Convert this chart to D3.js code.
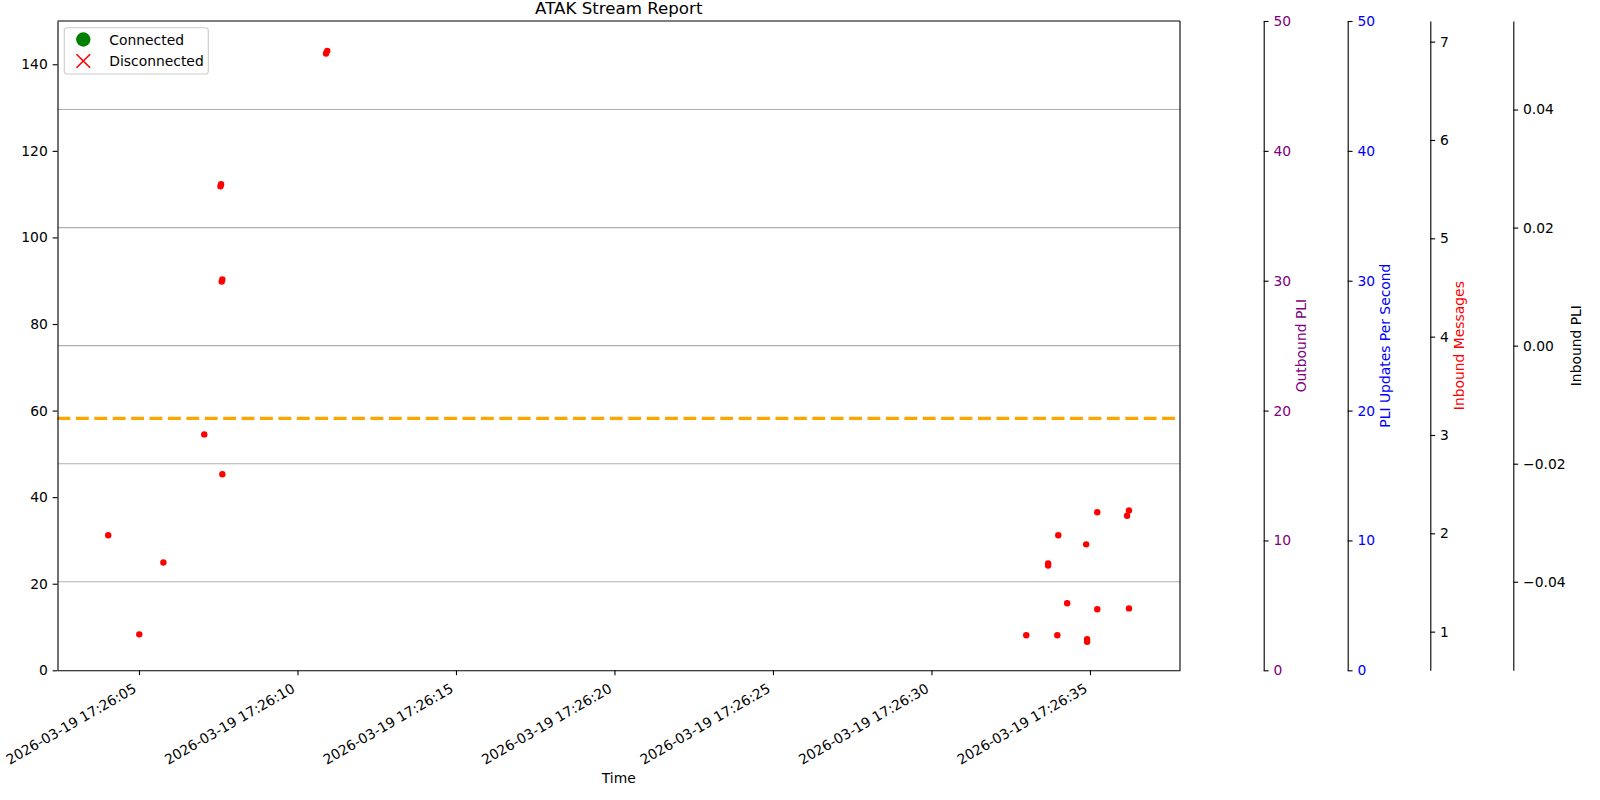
<!DOCTYPE html>
<html><head><meta charset="utf-8">
<script src="https://cdn.jsdelivr.net/npm/d3@7"></script>
<style>
body{margin:0;background:#fff}
text{font-family:"DejaVu Sans",sans-serif}
</style>
</head><body>
<svg id="c" width="1600" height="800"></svg>
<script>
// ---- data ----
const pointTimes  = [4.03, 5.01, 5.77, 7.06, 7.57, 7.59, 7.61, 7.63, 7.63, 10.90, 10.94,
                     32.99, 33.68, 33.68, 33.97, 34.00, 34.28, 34.88, 34.91, 34.91, 35.23, 35.23, 36.17, 36.23, 36.23]; // seconds after 17:26:00
const pointValues = [31.2, 8.3, 24.9, 54.5, 111.8, 112.3, 89.8, 90.3, 45.3, 142.5, 143.1,
                     8.1, 24.7, 24.2, 8.1, 31.2, 15.5, 29.1, 7.2, 6.6, 36.5, 14.1, 35.7, 36.9, 14.3];
const thresholdValue = 58.2;
const timeDomain = [2.43, 37.84];
const timeTicks = [5, 10, 15, 20, 25, 30, 35];
const leftDomain = [0, 150];
const leftTicks = [0, 20, 40, 60, 80, 100, 120, 140];
const outboundDomain = [0, 50];
const outboundTicks = [0, 10, 20, 30, 40, 50];
const pliRateDomain = [0, 50];
const pliRateTicks = [0, 10, 20, 30, 40, 50];
const inboundMsgDomain = [0.607, 7.21];
const inboundMsgTicks = [1, 2, 3, 4, 5, 6, 7];
const inboundPliDomain = [-0.055, 0.055];
const inboundPliTicks = [-0.04, -0.02, 0, 0.02, 0.04];
const legendLabels = ["Connected", "Disconnected"];
const axisLabels = ["Outbound PLI", "PLI Updates Per Second", "Inbound Messages", "Inbound PLI"];

// ---- layout ----
const X0 = 57.5, X1 = 1180, Y0 = 21, Y1 = 670.3;
const FS = 13.89, TK = 4.86, SW = 1.11;
const base = Date.UTC(2026, 2, 19, 17, 26, 0);
const toDate = s => new Date(base + s * 1000);
const fmt = d3.utcFormat("%Y-%m-%d %H:%M:%S");

const svg = d3.select("#c");
svg.append("rect").attr("width", 1600).attr("height", 800).attr("fill", "#fff");

const x = d3.scaleUtc().domain(timeDomain.map(toDate)).range([X0, X1]);
const y = d3.scaleLinear().domain(leftDomain).range([Y1, Y0]);
const yOut = d3.scaleLinear().domain(outboundDomain).range([Y1, Y0]);
const yRate = d3.scaleLinear().domain(pliRateDomain).range([Y1, Y0]);
const yMsg = d3.scaleLinear().domain(inboundMsgDomain).range([Y1, Y0]);
const yPli = d3.scaleLinear().domain(inboundPliDomain).range([Y1, Y0]);

// grid (from Inbound PLI axis)
svg.append("g").selectAll("line").data(inboundPliTicks).join("line")
  .attr("x1", X0).attr("x2", X1)
  .attr("y1", d => yPli(d)).attr("y2", d => yPli(d))
  .attr("stroke", "#b0b0b0").attr("stroke-width", SW);

// threshold line
svg.append("line").attr("x1", X0).attr("x2", X1)
  .attr("y1", y(thresholdValue)).attr("y2", y(thresholdValue))
  .attr("stroke", "orange").attr("stroke-width", 3.47)
  .attr("stroke-dasharray", "12.85,5.56");

// points
svg.append("g").selectAll("circle").data(pointTimes).join("circle")
  .attr("cx", (d) => x(toDate(d)))
  .attr("cy", (d, i) => y(pointValues[i]))
  .attr("r", 3.2).attr("fill", "red");

function styleAxis(g, color) {
  g.selectAll("line").attr("stroke", "#000").attr("stroke-width", SW);
  g.select(".domain").attr("stroke", "#000").attr("stroke-width", SW);
  g.selectAll("text").attr("font-size", FS).attr("font-family", "DejaVu Sans").attr("fill", color);
}

// left axis
const gl = svg.append("g").attr("transform", `translate(${X0},0)`)
  .call(d3.axisLeft(y).tickValues(leftTicks).tickSize(TK).tickPadding(TK).tickSizeOuter(0));
styleAxis(gl, "#000");

// bottom axis
const gb = svg.append("g").attr("transform", `translate(0,${Y1})`)
  .call(d3.axisBottom(x).tickValues(timeTicks.map(toDate)).tickFormat("").tickSize(TK).tickSizeOuter(0));
styleAxis(gb, "#000");
svg.append("g").selectAll("text").data(timeTicks).join("text")
  .attr("transform", d => `translate(${x(toDate(d)) - 1.65},${Y1 + 21}) rotate(-30)`)
  .attr("text-anchor", "end").attr("font-size", FS).attr("fill", "#000")
  .text(d => fmt(toDate(d)));

// top & right spines of main plot
svg.append("line").attr("x1", X0).attr("x2", X1).attr("y1", Y0).attr("y2", Y0).attr("stroke", "#000").attr("stroke-width", SW);
svg.append("line").attr("x1", X1).attr("x2", X1).attr("y1", Y0).attr("y2", Y1).attr("stroke", "#000").attr("stroke-width", SW);

// extra right axes
const rightAxes = [
  {pos: 1263.7, scale: yOut, ticks: outboundTicks, tcolor: "purple", lcolor: "purple", lx: 1301.3, f: d3.format("d")},
  {pos: 1347.7, scale: yRate, ticks: pliRateTicks, tcolor: "blue", lcolor: "blue", lx: 1385.3, f: d3.format("d")},
  {pos: 1430.3, scale: yMsg, ticks: inboundMsgTicks, tcolor: "#000", lcolor: "red", lx: 1459.5, f: d3.format("d")},
  {pos: 1513.3, scale: yPli, ticks: inboundPliTicks, tcolor: "#000", lcolor: "#000", lx: 1576, f: d => d3.format(".2f")(d).replace("-", "\u2212")}
];
rightAxes.forEach((a, i) => {
  const g = svg.append("g").attr("transform", `translate(${a.pos},0)`)
    .call(d3.axisRight(a.scale).tickValues(a.ticks).tickFormat(a.f).tickSize(TK).tickPadding(TK).tickSizeOuter(0));
  styleAxis(g, a.tcolor);
  svg.append("text")
    .attr("transform", `translate(${a.lx},${(Y0 + Y1) / 2}) rotate(-90)`)
    .attr("text-anchor", "middle").attr("dy", "0.35em")
    .attr("font-size", FS).attr("fill", a.lcolor).text(axisLabels[i]);
});

// title & x label
svg.append("text").attr("x", (X0 + X1) / 2).attr("y", 14).attr("text-anchor", "middle")
  .attr("font-size", 16.67).attr("fill", "#000").text("ATAK Stream Report");
svg.append("text").attr("x", (X0 + X1) / 2).attr("y", 782.5).attr("text-anchor", "middle")
  .attr("font-size", FS).attr("fill", "#000").text("Time");

// legend
const lg = svg.append("g");
lg.append("rect").attr("x", 64.3).attr("y", 27.7).attr("width", 144).attr("height", 46.3).attr("rx", 2.8)
  .attr("fill", "#fff").attr("fill-opacity", 0.8).attr("stroke", "#cccccc").attr("stroke-width", SW);
lg.append("circle").attr("cx", 83.3).attr("cy", 39.5).attr("r", 7.2).attr("fill", "green");
const xc = 83.3, yc = 61, hs = 6.8;
lg.append("path").attr("d", `M${xc - hs},${yc - hs}L${xc + hs},${yc + hs}M${xc - hs},${yc + hs}L${xc + hs},${yc - hs}`)
  .attr("stroke", "red").attr("stroke-width", 1.6).attr("fill", "none");
lg.selectAll("text.l").data(legendLabels).join("text").attr("class", "l")
  .attr("x", 109.3).attr("y", (d, i) => 44.5 + i * 21)
  .attr("font-size", FS).attr("fill", "#000").text(d => d);
</script>
</body></html>
